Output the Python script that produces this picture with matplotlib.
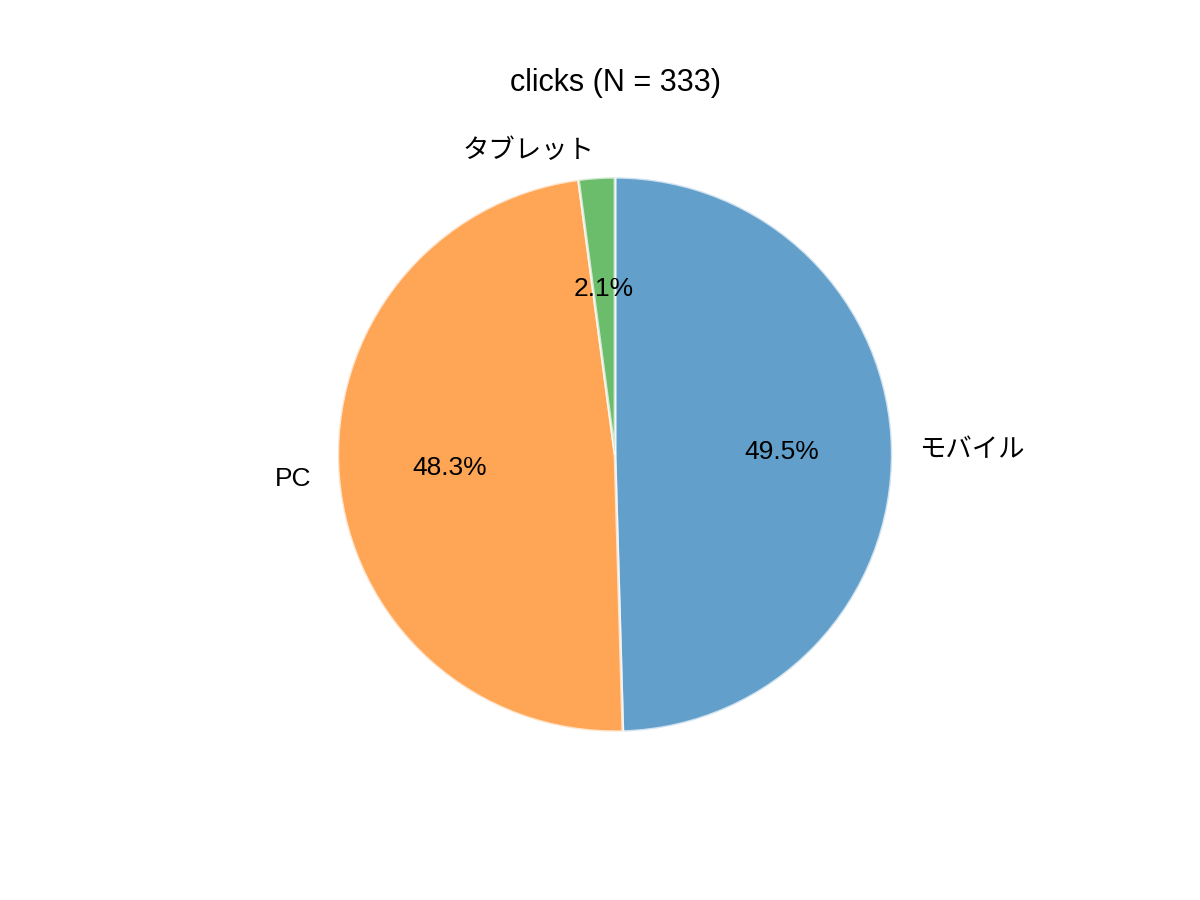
import matplotlib.pyplot as plt

plt.rcParams['font.family'] = ['Liberation Sans', 'Noto Sans CJK JP']

labels = ['モバイル', 'PC', 'タブレット']
counts = [165, 161, 7]
colors = ['tab:blue', 'tab:orange', 'tab:green']

fig, ax = plt.subplots(figsize=(12, 9), dpi=100)
wedges, texts, autotexts = ax.pie(
    counts, labels=labels, colors=colors, autopct='%.1f%%',
    startangle=90, counterclock=False,
    wedgeprops={'alpha': 0.7, 'edgecolor': 'white', 'linewidth': 2},
    textprops={'fontsize': 19})
ax.set_title('clicks (N = %d)' % sum(counts), fontsize=22, pad=12)
plt.savefig('out.png')
